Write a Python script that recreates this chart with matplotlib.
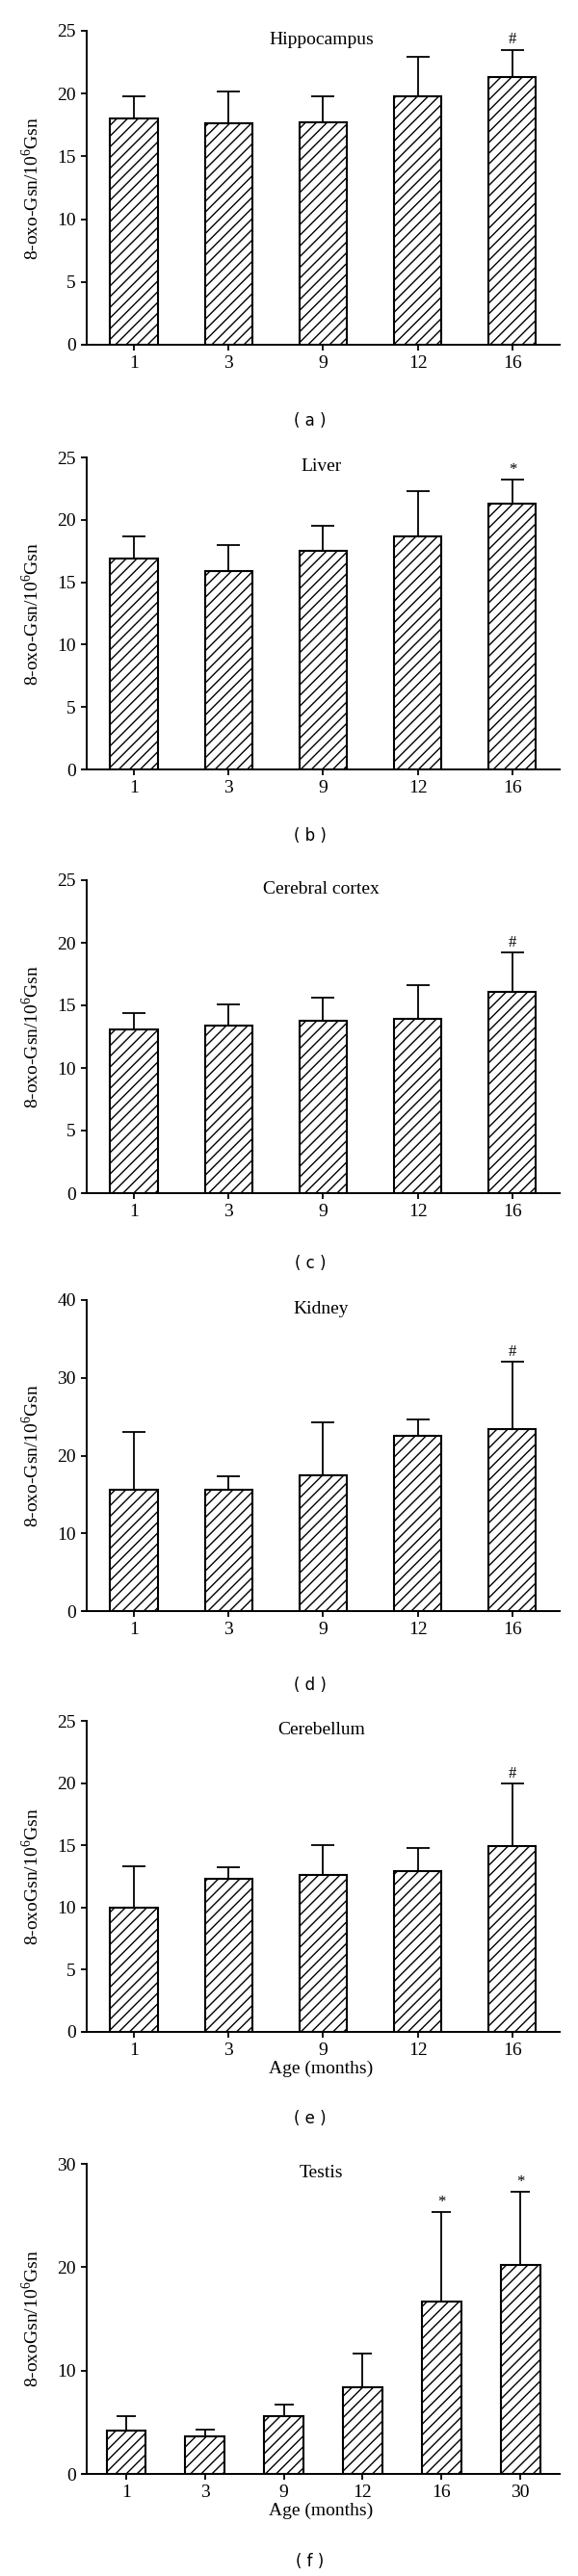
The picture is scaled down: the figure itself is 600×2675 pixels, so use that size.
import numpy as np
import matplotlib.pyplot as plt

# age groups (months)
ages = ['1', '3', '9', '12', '16']
ages_testis = ['1', '3', '9', '12', '16', '30']

# 8-oxo-Gsn per 10^6 Gsn, mean and upper SD
hippocampus_mean = [18.0, 17.6, 17.7, 19.8, 21.3]
hippocampus_sd = [1.8, 2.6, 2.1, 3.1, 2.2]
hippocampus_sig = ['', '', '', '', '#']

liver_mean = [16.9, 15.9, 17.5, 18.7, 21.3]
liver_sd = [1.8, 2.1, 2.0, 3.6, 1.9]
liver_sig = ['', '', '', '', '*']

cortex_mean = [13.1, 13.4, 13.8, 13.9, 16.1]
cortex_sd = [1.3, 1.7, 1.8, 2.7, 3.1]
cortex_sig = ['', '', '', '', '#']

kidney_mean = [15.6, 15.6, 17.5, 22.5, 23.4]
kidney_sd = [7.4, 1.7, 6.8, 2.2, 8.7]
kidney_sig = ['', '', '', '', '#']

cerebellum_mean = [10.0, 12.3, 12.6, 12.9, 14.9]
cerebellum_sd = [3.3, 0.9, 2.4, 1.9, 5.1]
cerebellum_sig = ['', '', '', '', '#']

testis_mean = [4.2, 3.6, 5.6, 8.4, 16.7, 20.2]
testis_sd = [1.4, 0.7, 1.1, 3.2, 8.6, 7.1]
testis_sig = ['', '', '', '', '*', '*']

plt.rcParams['font.family'] = ['Liberation Serif', 'DejaVu Serif']
plt.rcParams['mathtext.fontset'] = 'custom'
plt.rcParams['mathtext.rm'] = 'Liberation Serif'
plt.rcParams['hatch.linewidth'] = 1.0

W, H = 600, 2675
fig = plt.figure(figsize=(W / 100, H / 100), dpi=100)

ylab1 = r'8-oxo-Gsn/10$^{6}$Gsn'
ylab2 = r'8-oxoGsn/10$^{6}$Gsn'

# (title, labels, mean, sd, sig, ymax, ystep, ylabel, xlabel, tag, axes top px, axes bottom px, tag y px, cap)
panels = [
    ('Hippocampus', ages, hippocampus_mean, hippocampus_sd, hippocampus_sig, 25, 5, ylab1, None, '( a )', 32, 358, 437, 8.5),
    ('Liver', ages, liver_mean, liver_sd, liver_sig, 25, 5, ylab1, None, '( b )', 475, 799, 868, 8.5),
    ('Cerebral cortex', ages, cortex_mean, cortex_sd, cortex_sig, 25, 5, ylab1, None, '( c )', 914, 1239, 1312, 8.5),
    ('Kidney', ages, kidney_mean, kidney_sd, kidney_sig, 40, 10, ylab1, None, '( d )', 1350, 1673, 1750, 8.5),
    ('Cerebellum', ages, cerebellum_mean, cerebellum_sd, cerebellum_sig, 25, 5, ylab2, 'Age (months)', '( e )', 1787, 2110, 2200, 8.5),
    ('Testis', ages_testis, testis_mean, testis_sd, testis_sig, 30, 10, ylab2, 'Age (months)', '( f )', 2247, 2569, 2660, 7),
]

left_px, right_px = 86, 581

for title, labels, mean, sd, sig, ymax, ystep, ylab, xlab, tag, top, bottom, tag_y, cap in panels:
    ax = fig.add_axes([left_px / W, 1 - bottom / H, (right_px - left_px) / W, (bottom - top) / H])
    n = len(labels)
    x = np.arange(n)
    ax.errorbar(x, mean, yerr=[np.zeros(n), sd], fmt='none', ecolor='black',
                elinewidth=1.3, capsize=cap, capthick=1.3, zorder=1)
    ax.bar(x, mean, width=0.5, color='white', edgecolor='black', hatch='///',
           linewidth=1.5, zorder=2)
    for i in range(n):
        if sig[i]:
            ax.annotate(sig[i], (x[i], mean[i] + sd[i]), xytext=(0, 1.5),
                        textcoords='offset points', ha='center', va='bottom', fontsize=12)

    ax.set_xlim(-0.54 if n == 5 else -0.55, n - 0.5)
    ax.set_ylim(0, ymax)
    ax.set_xticks(x, labels=labels)
    ax.set_yticks(np.arange(0, ymax + 1, ystep))
    for s in ['top', 'right']:
        ax.spines[s].set_visible(False)
    ax.spines['left'].set_position(('data', -0.5))
    for s in ['left', 'bottom']:
        ax.spines[s].set_linewidth(1.4)
    ax.tick_params(direction='out', length=4, width=1.3, labelsize=14, pad=4)

    ax.text(0.5, 0.972, title, transform=ax.transAxes, ha='center', va='center', fontsize=14)
    ax.set_ylabel(ylab, fontsize=14)
    ax.yaxis.set_label_coords(-0.085, 0.5)
    if xlab:
        ax.set_xlabel(xlab, fontsize=14, labelpad=1)

    fig.text(322 / W, 1 - tag_y / H, tag, ha='center', va='center', fontsize=12,
             family='DejaVu Sans')

fig.savefig('out.png', dpi=100)
